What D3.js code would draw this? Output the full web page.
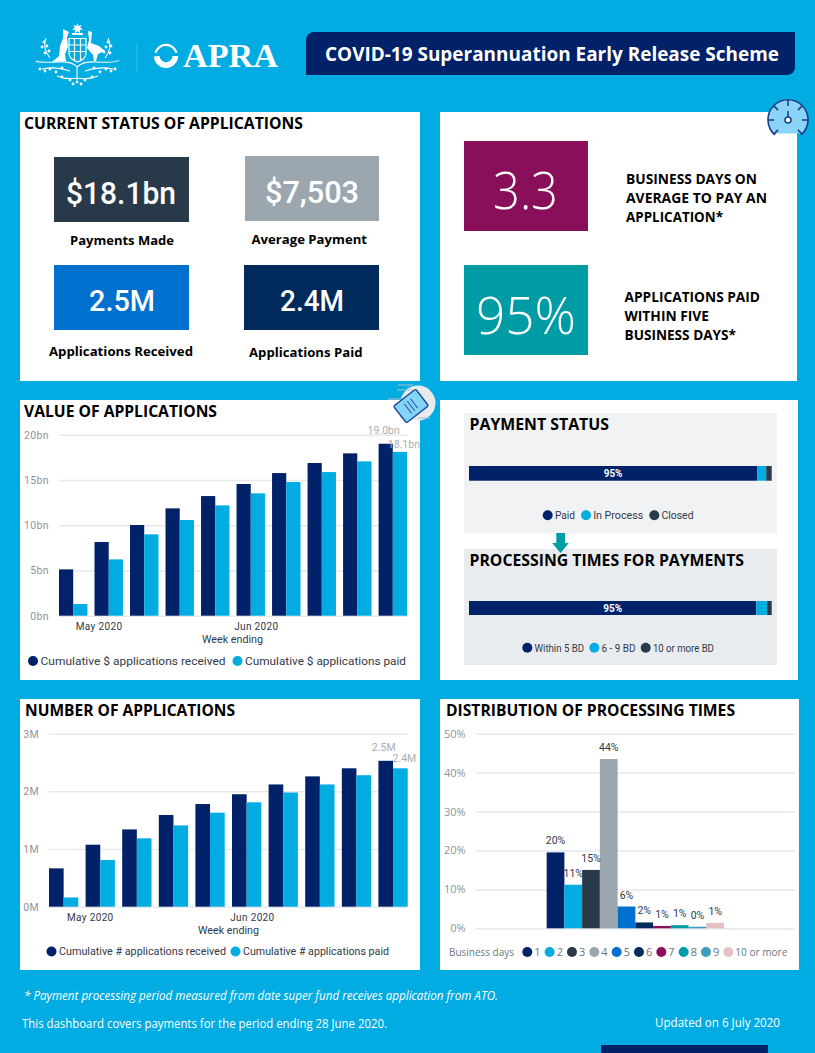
<!DOCTYPE html>
<html>
<head>
<meta charset="utf-8">
<script src="https://cdn.jsdelivr.net/npm/d3@7"></script>
<style>
  html, body { margin: 0; padding: 0; background: #00ACE2; overflow: hidden; }
  svg { display: block; }
</style>
</head>
<body>
<div id="chart"></div>
<script>
// values
const weeks = ["2020-04-26", "2020-05-03", "2020-05-10", "2020-05-17", "2020-05-24", "2020-05-31", "2020-06-07", "2020-06-14", "2020-06-21", "2020-06-28"];
const monthTicks = ["2020-05-01", "2020-06-01"];

const valueReceived = [5.12, 8.14, 10.02, 11.86, 13.22, 14.55, 15.76, 16.87, 17.94, 19.0];
const valuePaid = [1.29, 6.22, 8.99, 10.57, 12.19, 13.52, 14.77, 15.87, 17.05, 18.1];
const valueTicks = [0, 5, 10, 15, 20];

const numberReceived = [0.665, 1.075, 1.34, 1.59, 1.78, 1.95, 2.12, 2.26, 2.40, 2.53];
const numberPaid = [0.16, 0.81, 1.185, 1.41, 1.63, 1.81, 1.98, 2.12, 2.28, 2.40];
const numberTicks = [0, 1, 2, 3];

const dayLabels = ["1", "2", "3", "4", "5", "6", "7", "8", "9", "10 or more"];
const dayShares = [19.5, 11.2, 15.0, 43.5, 5.6, 1.5, 0.6, 0.8, 0.4, 1.4];
const dayShareLabels = ["20%", "11%", "15%", "44%", "6%", "2%", "1%", "1%", "0%", "1%"];
const shareTicks = [0, 10, 20, 30, 40, 50];

const statusNames = ["Paid", "In Process", "Closed"];
const statusShares = [95.2, 3.0, 1.8];
const timeNames = ["Within 5 BD", "6 - 9 BD", "10 or more BD"];
const timeShares = [94.9, 3.6, 1.5];

const navy = "#012169", sky = "#00ACE2", slate = "#28394A", silver = "#9BA6AF";
const dayColors = [navy, sky, slate, silver, "#0070CF", "#002B5C", "#8A0F5B", "#009CA6", "#3E9DBE", "#E5BFC2"];

const sans = "'Open Sans', 'Noto Sans', sans-serif";
const din = "Roboto, 'Noto Sans', sans-serif";
const parse = d3.utcParse("%Y-%m-%d");

const svg = d3.select("#chart").append("svg").attr("width", 815).attr("height", 1053);
svg.append("rect").attr("width", 815).attr("height", 1053).attr("fill", sky);

function box(x, y, w, h, fill) {
  return svg.append("rect").attr("x", x).attr("y", y).attr("width", w).attr("height", h).attr("fill", fill);
}

// width fixes the text to the span measured on the reference
function txt(x, y, s, o = {}) {
  const t = svg.append("text").attr("x", x).attr("y", y).text(s)
    .attr("font-family", o.family || sans)
    .attr("font-size", o.size || 12)
    .attr("font-weight", o.weight || 400)
    .attr("font-style", o.italic ? "italic" : null)
    .attr("fill", o.fill || "#000")
    .attr("text-anchor", o.anchor || "start");
  if (o.width) t.attr("textLength", o.width).attr("lengthAdjust", "spacingAndGlyphs");
  return t;
}

function head(x, y, s, width) {
  txt(x, y, s, { size: 16, weight: 700, width });
}

function legendDot(cx, cy, color) {
  svg.append("circle").attr("cx", cx).attr("cy", cy).attr("r", 5).attr("fill", color);
}

// ---- panels
box(20, 112, 400, 269, "#fff");
box(440, 112, 357, 269, "#fff");
box(20, 400, 400, 280, "#fff");
box(440, 400, 358, 280, "#fff");
box(20, 699, 400, 271, "#fff");
box(440, 699, 359, 271, "#fff");

// ---- header
drawCrest();
svg.append("line").attr("x1", 137).attr("x2", 137).attr("y1", 43).attr("y2", 73).attr("stroke", "#3DBDE8").attr("stroke-width", 1);
const ring = d3.arc();
svg.append("path").attr("transform", "translate(166,55.7)").attr("fill", "#fff")
  .attr("d", ring({ innerRadius: 9.8, outerRadius: 12, startAngle: -1.3, endAngle: 1.3 }));
svg.append("path").attr("transform", "translate(166,55.7)").attr("fill", "#fff")
  .attr("d", ring({ innerRadius: 6.5, outerRadius: 12.2, startAngle: 1.6, endAngle: 4.65 }));
txt(183, 66.7, "APRA", { family: "'Liberation Serif', serif", size: 33, weight: 700, fill: "#fff", width: 95 });

svg.append("path").attr("fill", navy)
  .attr("d", "M306,40 a8,8 0 0 1 8,-8 H795 V67 a8,8 0 0 1 -8,8 H306 Z");
txt(325, 60.5, "COVID-19 Superannuation Early Release Scheme", { size: 19, weight: 700, fill: "#fff", width: 454 });

// ---- current status
head(24, 128.7, "CURRENT STATUS OF APPLICATIONS", 279);
box(54, 157, 135, 65, slate);
box(245, 156, 134, 65, silver);
box(54, 265, 135, 65, "#0070CF");
box(244, 265, 135, 65, "#002B5C");
txt(66, 203.7, "$18.1bn", { family: din, size: 32, weight: 500, fill: "#fff", width: 110 });
txt(265, 202.7, "$7,503", { family: din, size: 32, weight: 500, fill: "#fff", width: 94 });
txt(89, 311, "2.5M", { family: din, size: 30, weight: 500, fill: "#fff", width: 66 });
txt(280, 311, "2.4M", { family: din, size: 30, weight: 500, fill: "#fff", width: 64 });
txt(70, 245, "Payments Made", { size: 13, weight: 700, width: 104 });
txt(251.5, 244, "Average Payment", { size: 13, weight: 700, width: 115.5 });
txt(49, 356, "Applications Received", { size: 13, weight: 700, width: 144 });
txt(249, 357, "Applications Paid", { size: 13, weight: 700, width: 113.5 });

// ---- headline figures
box(464, 141, 124, 90, "#8A0F5B");
box(464, 265, 124, 90, "#009CA6");
txt(493, 208.7, "3.3", { size: 52, weight: 300, fill: "#fff", width: 65 });
txt(476, 333.7, "95%", { size: 52, weight: 300, fill: "#fff", width: 100 });
txt(626, 183.7, "BUSINESS DAYS ON", { size: 13.5, weight: 700, width: 131 });
txt(626, 202.7, "AVERAGE TO PAY AN", { size: 13.5, weight: 700, width: 141 });
txt(626, 221.7, "APPLICATION*", { size: 13.5, weight: 700, width: 97 });
txt(624.5, 302, "APPLICATIONS PAID", { size: 13.5, weight: 700, width: 135.5 });
txt(624.5, 321, "WITHIN FIVE", { size: 13.5, weight: 700, width: 84.5 });
txt(624.5, 340, "BUSINESS DAYS*", { size: 13.5, weight: 700, width: 111.5 });
drawGauge();

// ---- grouped bars by week
function weeklyBars(o) {
  const x = d3.scaleBand().domain(weeks).range(o.xRange).paddingInner(0.2).paddingOuter(0);
  const inner = d3.scaleBand().domain([0, 1]).range([0, x.bandwidth()]);
  const y = d3.scaleLinear().domain(o.yDomain).range(o.yRange);

  const axis = svg.append("g").attr("transform", `translate(${o.xRange[0]},0)`)
    .call(d3.axisLeft(y).tickValues(o.ticks).tickFormat(o.fmt)
      .tickSize(-(o.xRange[1] - o.xRange[0])).tickPadding(10));
  axis.select(".domain").remove();
  axis.selectAll("line").attr("stroke", "#E6E9ED").attr("stroke-width", 1.5);
  axis.selectAll("text").attr("font-family", din).attr("font-size", 10.5).attr("fill", "#8C949B").attr("letter-spacing", 0.4);

  [o.received, o.paid].forEach((series, i) => {
    svg.append("g").selectAll("rect").data(series).join("rect")
      .attr("x", (d, j) => x(weeks[j]) + inner(i))
      .attr("width", inner.bandwidth())
      .attr("y", d => y(d))
      .attr("height", d => y(0) - y(d))
      .attr("fill", i ? sky : navy);
  });

  // month labels sit on a date axis running through the group centres
  const half = x.bandwidth() / 2;
  const t = d3.scaleUtc()
    .domain([parse(weeks[0]), parse(weeks[weeks.length - 1])])
    .range([x(weeks[0]) + half, x(weeks[weeks.length - 1]) + half]);
  const xAxis = svg.append("g").attr("transform", `translate(0,${o.yRange[0]})`)
    .call(d3.axisBottom(t).tickValues(monthTicks.map(parse)).tickFormat(d3.utcFormat("%b %Y")).tickSize(0).tickPadding(7));
  xAxis.select(".domain").remove();
  xAxis.selectAll("text").attr("font-family", din).attr("font-size", 10).attr("fill", "#30394A").attr("letter-spacing", 0.35);

  txt(o.weekX, o.weekY, "Week ending", { family: din, size: 10, fill: "#30394A", width: 61 });

  const last = weeks[weeks.length - 1];
  txt(x(last) + inner(0) + inner.bandwidth() / 2 - 2, y(o.received[9]) - o.labelGap[0], o.endLabels[0],
    { family: din, size: 10.5, fill: "#A9AEB3", anchor: "middle" });
  txt(x(last) + inner(1) + inner.bandwidth() / 2 + 4, y(o.paid[9]) - o.labelGap[1], o.endLabels[1],
    { family: din, size: 10.5, fill: "#A9AEB3", anchor: "middle" });

  o.legend.forEach((l, i) => {
    legendDot(l.cx, o.legendY, i ? sky : navy);
    txt(l.cx + 7.5, o.legendY + 3.8, l.text, { family: din, size: 10.5, fill: "#30394A", width: l.width });
  });
}

head(24, 417, "VALUE OF APPLICATIONS", 193);
weeklyBars({
  received: valueReceived, paid: valuePaid, yDomain: [0, 20], ticks: valueTicks,
  fmt: d => d + "bn", xRange: [59, 407], yRange: [615.7, 434.7],
  weekX: 202, weekY: 642.5, endLabels: ["19.0bn", "18.1bn"], labelGap: [10, 4],
  legendY: 661,
  legend: [{ cx: 33, text: "Cumulative $ applications received", width: 185 },
           { cx: 237.5, text: "Cumulative $ applications paid", width: 161 }]
});

head(25, 715.7, "NUMBER OF APPLICATIONS", 210);
weeklyBars({
  received: numberReceived, paid: numberPaid, yDomain: [0, 3], ticks: numberTicks,
  fmt: d => d + "M", xRange: [49, 407.7], yRange: [906.7, 733.7],
  weekX: 198, weekY: 933.5, endLabels: ["2.5M", "2.4M"], labelGap: [9.5, 6],
  legendY: 951.5,
  legend: [{ cx: 51.5, text: "Cumulative # applications received", width: 167 },
           { cx: 235.5, text: "Cumulative # applications paid", width: 146 }]
});

// ---- payment status and processing times
box(464, 413, 313, 120.5, "#F1F2F3");
box(464, 549, 313, 116, "#E9ECEF");
svg.append("path").attr("fill", "#009CA6")
  .attr("d", "M556.3,533 H565 V543 H568.8 L560.6,553 L552.2,543 H556.3 Z");
head(469.5, 430, "PAYMENT STATUS", 139.5);
head(469.5, 565.7, "PROCESSING TIMES FOR PAYMENTS", 274.5);

function stackedBar(o) {
  const x = d3.scaleLinear().domain([0, 100]).range([469, 771.7]);
  const stack = d3.stack().keys(d3.range(o.shares.length))([o.shares]);
  svg.append("g").selectAll("rect").data(stack).join("rect")
    .attr("x", d => x(d[0][0]))
    .attr("width", d => x(d[0][1]) - x(d[0][0]))
    .attr("y", o.y).attr("height", o.h)
    .attr("fill", (d, i) => dayColors[i]);
  txt(x(o.shares[0] / 2), o.y + o.h / 2 + 3.6, "95%", { family: din, size: 10, weight: 700, fill: "#fff", anchor: "middle" });
  o.names.forEach((n, i) => {
    legendDot(o.legend[i].cx, o.legendY, dayColors[i]);
    txt(o.legend[i].cx + 7.2, o.legendY + 3.8, n, { family: din, size: 10, fill: "#30394A", width: o.legend[i].width });
  });
}

stackedBar({
  shares: statusShares, names: statusNames, y: 466, h: 14.7, legendY: 515.3,
  legend: [{ cx: 547.7, width: 20 }, { cx: 586, width: 50 }, { cx: 654.3, width: 32 }]
});
stackedBar({
  shares: timeShares, names: timeNames, y: 601, h: 14, legendY: 647.7,
  legend: [{ cx: 527.3, width: 49.5 }, { cx: 594.3, width: 34 }, { cx: 645.7, width: 61 }]
});

// ---- distribution
head(446, 715.7, "DISTRIBUTION OF PROCESSING TIMES", 289);
const dx = d3.scaleBand().domain(dayLabels).range([475.7, 795]).paddingInner(0).paddingOuter(4);
const dy = d3.scaleLinear().domain([0, 50]).range([928.3, 733.7]);
const dAxis = svg.append("g").attr("transform", "translate(475.7,0)")
  .call(d3.axisLeft(dy).tickValues(shareTicks).tickFormat(d => d + "%").tickSize(-319.3).tickPadding(10));
dAxis.select(".domain").remove();
dAxis.selectAll("line").attr("stroke", "#E6E9ED").attr("stroke-width", 1.5);
dAxis.selectAll("text").attr("font-family", sans).attr("font-size", 11).attr("fill", "#8C949B");

svg.append("g").selectAll("rect").data(dayShares).join("rect")
  .attr("x", (d, i) => dx(dayLabels[i]))
  .attr("width", dx.bandwidth())
  .attr("y", d => dy(d))
  .attr("height", d => dy(0) - dy(d))
  .attr("fill", (d, i) => dayColors[i]);
dayShares.forEach((d, i) => {
  txt(dx(dayLabels[i]) + dx.bandwidth() / 2, dy(d) - 8, dayShareLabels[i],
    { family: din, size: 10.5, fill: "#30394A", anchor: "middle" });
});

txt(449, 955.7, "Business days", { size: 11, fill: "#6B7680", width: 65 });
const dayLegend = d3.scalePoint().domain(dayLabels).range([527.3, 728.3]);
dayLabels.forEach((d, i) => {
  legendDot(dayLegend(d), 952, dayColors[i]);
  txt(dayLegend(d) + 7, 955.7, d, { size: 11, fill: "#6B7680", width: i === 9 ? 52 : null });
});

// ---- footer
txt(24, 1000, "* Payment processing period measured from date super fund receives application from ATO.",
  { size: 12, italic: true, fill: "#fff", width: 474 });
txt(22, 1028, "This dashboard covers payments for the period ending 28 June 2020.", { size: 12, fill: "#fff", width: 365 });
txt(655, 1027, "Updated on 6 July 2020", { size: 12, fill: "#fff", width: 125 });
box(601, 1045, 167, 8, navy);

// ---- document icon over the value panel
svg.append("circle").attr("cx", 418).attr("cy", 403).attr("r", 17.5).attr("fill", "#E8EAEC");
[[398, 385, 15], [397, 390, 15], [388, 399, 15], [400, 417, 9], [418, 418, 12]].forEach(s => {
  svg.append("line").attr("x1", s[0]).attr("x2", s[0] + s[2]).attr("y1", s[1]).attr("y2", s[1])
    .attr("stroke", "#B8BEC4").attr("stroke-width", 1);
});
const doc = svg.append("g").attr("transform", "translate(411,406) rotate(-38)");
doc.append("rect").attr("x", -14).attr("y", -10.5).attr("width", 28).attr("height", 21).attr("rx", 1.5)
  .attr("fill", "#86D3F8").attr("stroke", "#1B4F9C").attr("stroke-width", 1.4);
[-4, 0, 4].forEach(o => {
  doc.append("line").attr("x1", o).attr("x2", o).attr("y1", -6).attr("y2", 6).attr("stroke", "#1B4F9C").attr("stroke-width", 1);
});

function drawGauge() {
  const g = svg.append("g").attr("transform", "translate(788,120)");
  g.append("path").attr("fill", "#8AD4F8").attr("d", "M-14,13.5 A20,20 0 1 1 14,13.5 Z");
  g.append("path").attr("fill", "none").attr("stroke", "#1C3F8A").attr("stroke-width", 1.6)
    .attr("d", "M-13,15 A20,20 0 1 1 13,15");
  d3.range(-135, 136, 45).forEach(a => {
    const r = a * Math.PI / 180, s = Math.sin(r), c = -Math.cos(r);
    g.append("line").attr("x1", s * 14).attr("y1", c * 14).attr("x2", s * 20).attr("y2", c * 20)
      .attr("stroke", "#1C3F8A").attr("stroke-width", 1.6);
  });
  g.append("line").attr("x1", 0).attr("x2", 0).attr("y1", -9).attr("y2", -3).attr("stroke", "#1C3F8A").attr("stroke-width", 1.6);
  g.append("circle").attr("r", 3).attr("fill", "#fff").attr("stroke", "#1C3F8A").attr("stroke-width", 1.6);
}

// rough outline of the coat of arms
function drawCrest() {
  const g = svg.append("g").attr("fill", "#fff");
  g.append("path").attr("d", "M77.5,23 l1.2,3 3,-1 -1.5,2.8 2.8,1.6 -3.2,.6 .2,3.2 -2.5,-2 -2.5,2 .2,-3.2 -3.2,-.6 2.8,-1.6 -1.5,-2.8 3,1 Z");
  g.append("rect").attr("x", 72).attr("y", 33).attr("width", 11).attr("height", 2);
  g.append("path").attr("d", "M63,29 L69,32 L67,37 L68,47 L65,54 L66,61 L52,62 L59,56 L60,46 L63,38 Z");
  g.append("path").attr("d", "M88,31 L92,32 L91,43 L99,46 L105,51 L98,54 L96,61 L94,61 L93,55 L87,48 L89,40 Z");
  g.append("path").attr("fill", "none").attr("stroke", "#fff").attr("stroke-width", 1.2)
    .attr("d", "M69,38.5 H86 V53 Q86,59 77.5,62 Q69,59 69,53 Z M69,45 H86 M69,51.5 H86 M74.5,38.5 V60 M80.5,38.5 V60");
  g.append("path").attr("fill", "none").attr("stroke", "#fff").attr("stroke-width", 1.1)
    .attr("d", "M36,61 Q38,63 58,62 Q72,61 77,67 Q83,61 97,62 Q117,63 119,60 M77,67 V80 M42,69 Q56,66 70,71 M113,69 Q99,66 85,71 M57,76 Q66,80 77,78 Q88,80 98,76 M46,38 Q42,48 50,58 M108,38 Q113,48 105,58");
  [[44, 42], [47, 46], [42, 47], [49, 51], [45, 53], [108, 42], [111, 46], [106, 47], [104, 52], [110, 53],
   [40, 69], [45, 71], [50, 69], [56, 72], [62, 68], [94, 68], [100, 72], [106, 69], [111, 71], [115, 69],
   [62, 77], [70, 80], [85, 80], [92, 77], [77, 82], [73, 84], [81, 84]].forEach(p => {
    g.append("circle").attr("cx", p[0]).attr("cy", p[1]).attr("r", 1.4);
  });
}
</script>
</body>
</html>
